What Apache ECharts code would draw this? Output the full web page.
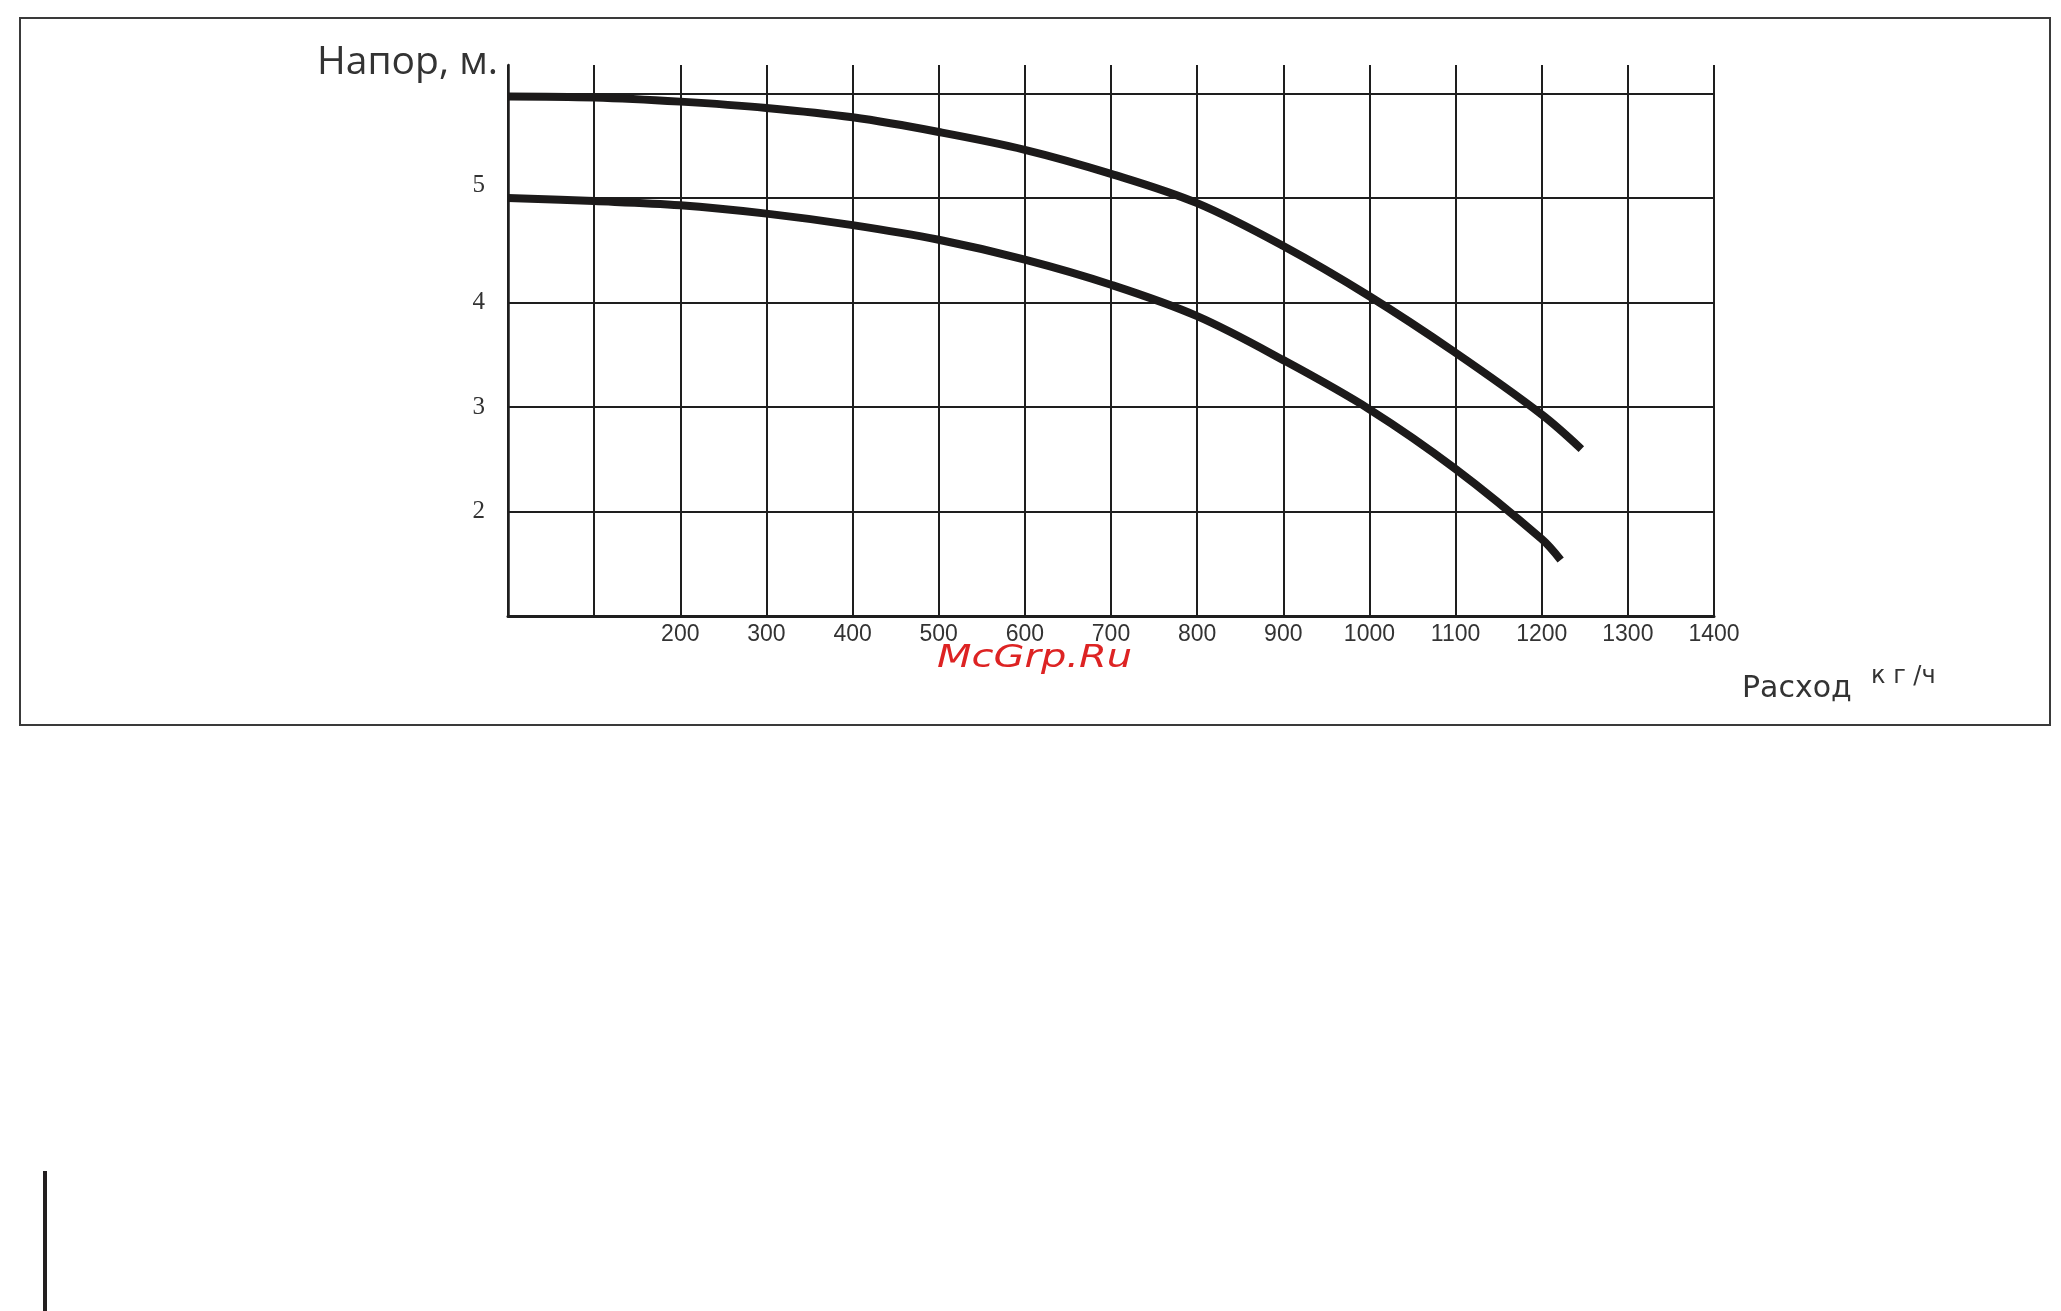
<!DOCTYPE html>
<html>
<head>
<meta charset="utf-8">
<style>
  html, body { margin: 0; padding: 0; background: #ffffff; }
  #chart { width: 2061px; height: 1311px; }
</style>
<script src="https://cdn.jsdelivr.net/npm/echarts@6/dist/echarts.min.js"></script>
</head>
<body>
<div id="chart"></div>
<script>
// ---- data ----
const yTitle = 'Напор, м.';
const xTitle = 'Расход';
const xUnit = 'к г /ч';
const watermark = 'McGrp.Ru';

const xTickLabels = [200, 300, 400, 500, 600, 700, 800, 900, 1000, 1100, 1200, 1300, 1400];
const yTickLabels = [2, 3, 4, 5];

// upper pump curve  [flow kg/h, head m]
const upperCurve = [
  [0, 5.97], [100, 5.96], [200, 5.92], [300, 5.86], [400, 5.77], [500, 5.63],
  [600, 5.46], [700, 5.23], [800, 4.95], [900, 4.54], [1000, 4.06],
  [1100, 3.52], [1200, 2.93], [1246, 2.60]
];
// lower pump curve
const lowerCurve = [
  [0, 5.00], [100, 4.97], [200, 4.93], [300, 4.85], [400, 4.74], [500, 4.60],
  [600, 4.41], [700, 4.17], [800, 3.87], [900, 3.45], [1000, 2.98],
  [1100, 2.41], [1200, 1.74], [1222, 1.54]
];

const GRID_COLOR = '#1e1e1e';
const CURVE_COLOR = '#1c1a1a';
const LABEL_COLOR = '#333333';

const chart = echarts.init(document.getElementById('chart'), null, { renderer: 'canvas' });

const option = {
  backgroundColor: '#ffffff',
  animation: false,
  grid: { left: 508, top: 65, right: 347, bottom: 694.5, containLabel: false },
  xAxis: {
    type: 'value',
    min: 0, max: 1400, interval: 100,
    axisLine: { show: true, onZero: false, lineStyle: { color: GRID_COLOR, width: 3 } },
    axisTick: { show: false },
    splitLine: { show: true, lineStyle: { color: GRID_COLOR, width: 2 } },
    axisLabel: {
      margin: 7,
      color: LABEL_COLOR,
      fontFamily: 'Liberation Sans',
      fontSize: 23,
      formatter: function (v) { return xTickLabels.indexOf(v) >= 0 ? String(v) : ''; }
    }
  },
  yAxis: {
    type: 'value',
    min: 1, max: 6.27, interval: 1,
    axisLine: { show: true, onZero: false, lineStyle: { color: GRID_COLOR, width: 2.5 } },
    axisTick: { show: false },
    splitLine: { show: true, showMaxLine: false, showMinLine: false, lineStyle: { color: GRID_COLOR, width: 2 } },
    axisLabel: {
      margin: 23,
      color: LABEL_COLOR,
      fontFamily: 'Liberation Serif',
      fontSize: 25,
      formatter: function (v) {
        if (yTickLabels.indexOf(v) < 0) return '';
        return v === 5 ? '{up|' + v + '}' : String(v);
      },
      rich: {
        up: { fontFamily: 'Liberation Serif', fontSize: 25, color: LABEL_COLOR, padding: [0, 0, 24, 0] }
      }
    }
  },
  series: [
    {
      type: 'line', data: upperCurve, smooth: 0.35, showSymbol: false, silent: true,
      lineStyle: { color: CURVE_COLOR, width: 8, cap: 'butt' }
    },
    {
      type: 'line', data: lowerCurve, smooth: 0.35, showSymbol: false, silent: true,
      lineStyle: { color: CURVE_COLOR, width: 8, cap: 'butt' }
    }
  ],
  graphic: [
    { type: 'rect', silent: true, z: -1,
      shape: { x: 20, y: 18, width: 2030, height: 707 },
      style: { fill: 'none', stroke: '#3a3a3a', lineWidth: 2 } },
    { type: 'rect', silent: true,
      shape: { x: 43, y: 1171, width: 4, height: 140 },
      style: { fill: '#231f20' } },
    { type: 'text', silent: true, x: 498, y: 63,
      style: { text: yTitle, font: '39px "Open Sans"', fill: LABEL_COLOR, align: 'right', verticalAlign: 'middle' } },
    { type: 'text', silent: true, x: 1742, y: 689.5,
      style: { text: xTitle, font: '30px "DejaVu Sans"', fill: LABEL_COLOR, align: 'left', verticalAlign: 'middle' } },
    { type: 'text', silent: true, x: 1871, y: 677,
      style: { text: xUnit, font: '24px "DejaVu Sans"', fill: LABEL_COLOR, align: 'left', verticalAlign: 'middle' } },
    { type: 'text', silent: true, x: 937, y: 659, scaleX: 1.25,
      style: { text: watermark, font: 'italic 32px "DejaVu Sans"', fill: '#dd2323', align: 'left', verticalAlign: 'middle' } }
  ]
};

chart.setOption(option);
</script>
</body>
</html>
